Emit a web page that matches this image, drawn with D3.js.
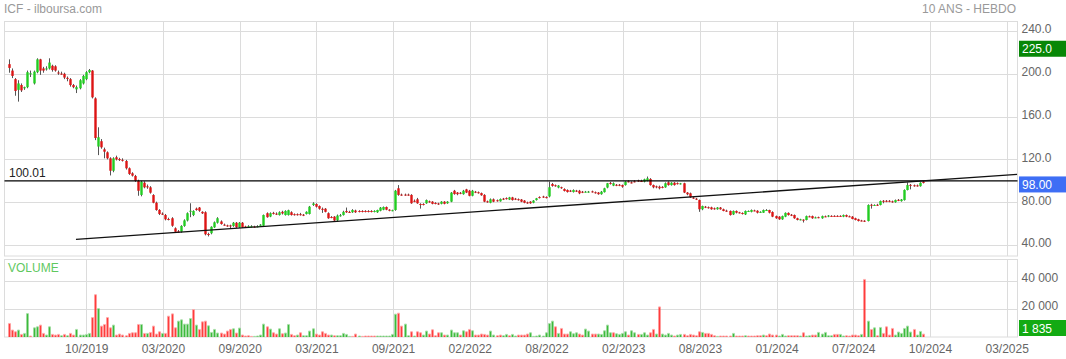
<!DOCTYPE html>
<html>
<head>
<meta charset="utf-8">
<title>ICF - ilboursa.com</title>
<script src="https://cdn.jsdelivr.net/npm/d3@7"></script>
<style>
  body { margin: 0; background: #fff; }
  svg { display: block; font-family: Arial, "Liberation Sans", sans-serif; }
</style>
</head>
<body>
<div id="chart"></div>
<script>
// x axis labels (one every ~26 weekly bars)
var dateTicks = ["10/2019", "03/2020", "09/2020", "03/2021", "09/2021", "02/2022", "08/2022",
                 "02/2023", "08/2023", "01/2024", "07/2024", "10/2024", "03/2025"];
var priceTicks = [240, 200, 160, 120, 80, 40];
var volumeTicks = [40000, 20000];

// weekly candles: [open, high, low, close]
var candles = [
[209,213.5,201,205.5],[203,205,196,198],[195,196,179.5,184],[185,194,174,191],[189.5,191,183,184.5],
[186.5,188,185,187.5],[187.5,203,186.5,201.5],[199.5,203,197,200.5],[191,203,190,202],[201.5,214.5,200.5,213.5],
[213.5,214,199,203],[205,206.5,201,203],[204.5,207,203,205],[205,214.5,204,210.5],[207.5,208.5,202,203.5],
[207,208,202,203],[201.2,203,199,201],[200.2,202,199,200],[200,201,195,196.5],[196.2,197.5,193,196],
[195,196,188,189.5],[189.5,190.5,186.5,187.5],[185.5,189,182,187.5],[186.5,195,185.5,194],[191,199,190,198],
[195,202.5,194,201.5],[201.5,204.5,200.5,203.5],[203,203.5,177,178],[177,178,138,140],[132,150,124,140.7],
[137,139,130,131.3],[129.4,131,121,127.2],[126.6,127.5,120,121],[121,122,105,109.4],[109.4,122,108,121],
[122,123.5,119,120],[120.3,121.5,118.5,120],[119.6,121,118,119.4],[118.5,119.5,110.5,111.7],[111.7,112.5,105.5,106.4],
[107,108,104,104.8],[104.5,105.5,99,100],[100,101,86,90.7],[86.8,100,85.5,99.2],[98.2,99.5,93,93.9],
[94.8,96.5,92.5,94.5],[93.9,95,88,88.9],[86.7,87.5,79,79.5],[79.5,80.5,72,72.7],[72.7,73.5,68,69],
[69.3,70.5,68,69],[68,69,63,64],[64.3,65.5,63,64],[65,66,57,58],[55.6,56.5,51.5,52.4],
[52.7,54,51.5,52.4],[52.4,58.5,51.5,57.8],[57.8,64,57,63],[62.9,70.5,62,69.7],[71.8,79,66,72],
[68,72.5,67,71.8],[74,75,72,72.7],[75,75.5,71,72],[71,71.5,69,69.6],[70.6,71.5,49,50],
[50.3,51.5,48,50],[51,57.5,50,57],[56.5,62,56,61.2],[60.8,66,60,65],[62,63,59,59.6],
[59,60,58,58.7],[58.3,59,57,58],[58.3,59,55,58],[57.8,61.5,57,60.8],[60.8,61.5,56,56.5],
[56.5,61.5,56,60.8],[60.8,61.5,56,56.5],[57.3,58,56,57],[57.3,58.5,56.5,57.5],[57.2,58.5,56.5,57.5],
[57.3,58,56,57],[57.2,58.5,56.5,57.5],[58,59.5,57.5,59],[58,68.5,57.5,68],[69.7,70.5,65.5,66],
[66.6,70.5,66,69.7],[70,71,68.5,69.7],[69.3,70.5,68,69],[68,71.5,67.5,70.6],[71,72,68.5,69.5],
[68,72.5,67.5,71.8],[68,73,67.5,72.5],[70.6,71.5,67.5,68],[68.8,69.5,67.5,68.5],[68.8,69.5,67.5,68.5],
[68.8,70,67.5,68.5],[68.3,69,67,68],[69,71.5,68.5,71],[69,76.5,68.5,75.8],[77.4,80,76.5,78.8],
[78.3,79,75,75.8],[76.4,77,73,73.9],[73.8,75,70,73.5],[73.9,74.5,70.5,71],[69.7,70.5,64.5,65],
[66.2,67,65,65.9],[66.5,67,62,62.9],[63,68.5,62,67.5],[67.5,69,66.5,67.8],[68,72,67.5,71],
[71.8,75,70,70.6],[70.9,72,70,70.6],[70.6,73.5,70,72.7],[72.2,73,70,70.6],[71.8,72.5,70.5,71.5],
[71.8,72.5,70.5,71.5],[71.8,72.5,70.5,71.5],[71.8,72.5,70.5,71.5],[71.8,72.5,70.5,71.5],[71.5,72.5,70.5,71.8],
[70.6,73,70,72.7],[72,75.5,71.5,74.9],[73,76,72.5,75.5],[75.5,76,72.5,73],[73,73.5,71.5,72],
[72.3,73,71.5,72.5],[72.7,91.5,72,90.7],[93,96,86,86.8],[87.1,88,86,86.8],[87.1,88,86,86.8],
[87.1,88,86,86.8],[86.8,87.5,78.5,79],[81.3,82.5,80,81],[82.7,84,78.5,79],[78.3,79,74,78],
[78.3,79,77,78],[79,82.5,78.5,82],[80.8,81.5,79.5,80.5],[80.5,81,78,78.5],[79.3,80,78,79],
[78.8,79.5,77.5,78.5],[78.5,81,78,80.5],[80.5,81,78,78.5],[79,81,78.5,80.5],[80.5,89.5,80,88.9],
[90.7,91.5,87,87.6],[89,89.5,86.5,87.5],[88.8,89.5,87.5,88.5],[87.5,91.5,87,90.7],[92,92.5,88.5,89],
[90.7,91.5,85.5,86],[86,91.5,85.5,90.7],[89.8,90.5,88.5,89.5],[89.3,90,88,89],[88.5,89,86,86.5],
[86.8,87.5,80,80.5],[80.8,81.5,79.5,80.5],[79.5,83.5,79,82.7],[82.7,83.5,80,80.5],[81.8,82.5,80.5,81.5],
[80.8,83.5,80.5,83],[83.3,84,82,83],[83.8,84.5,82.5,83.5],[82.5,85,82,84.5],[84.5,85,81.5,82],
[83.3,84,82,83],[82.8,83.5,81.5,82.5],[82.5,83,80,80.5],[81.5,82,79,79.5],[79.8,80.5,78.5,79.5],
[80.5,81,78.5,79],[79.5,82,79,81.5],[82,84,81.5,83.6],[84.8,85.5,83.5,84.5],[85.3,86,84,85],
[84.8,85.5,83.5,84.5],[85.4,99.2,84.5,94],[97,98,94.5,95.2],[95.8,96.5,94.5,95.5],[93.7,96,93,95.5],
[94,94.5,92.5,93.7],[92.3,93,90,90.5],[91.4,92,89,89.5],[90.8,91.5,89.5,90.5],[89.5,92,89,91.4],
[90.8,91.5,89.5,90.5],[90.7,91.5,87.5,88.3],[89.8,90.5,88.5,89.5],[89.5,90.5,89,89.8],[89.6,90.5,88.8,89.9],
[90.1,90.8,89,89.8],[89.3,90,88,89],[89,89.5,87,87.5],[87.5,90.5,87,89.8],[89.4,93.5,89,93],
[93.7,98,93,97.7],[98,99,96.5,97.7],[95.5,98.5,95,97.7],[96.3,97,95,96],[96.3,97,95,96],
[96,96.5,93.5,94.5],[96,99.7,95.5,99.2],[99.5,100.5,98.5,99.2],[98.5,99.5,97.5,98.2],[99.5,100.5,98.5,99.2],
[100.3,101,99,100],[99.8,101,99,99.5],[99.2,102,98.5,101.4],[99.8,104,99.5,102.3],[101.7,102.5,95.5,96],
[96,96.5,93,93.9],[94.8,95.5,93,94.5],[94.5,95.5,92,93],[94.3,95,93,94],[93.9,98.5,93.5,97.7],
[98.6,99.5,95.5,96],[96,98.7,95.5,98.2],[98.2,98.8,95.5,96],[97.8,98.5,96.5,97.5],[97.3,98,96.5,97.6],
[97.7,98.2,88.5,89],[89,89.5,86.5,87.4],[88.3,89,84,84.6],[84.3,85,83,84],[83.3,84,82,83],
[82,82.5,71,73.4],[73.4,76.8,72.5,76.4],[75.8,76.5,74.5,75.5],[75.3,76,74,75],[75.2,75.8,73,73.4],
[74.3,75,73,74],[73.4,75.5,73,75],[75,75.5,73,73.4],[73.4,74,71.5,71.8],[72.1,73,71,71.8],
[71.8,72.3,67.5,68],[68.6,72.3,68,71.8],[71.8,72.3,69.5,70.2],[70.5,71,69.5,70.2],[69.9,70.5,68.5,69.6],
[68.6,72.3,68,71.8],[71.5,72.3,71,71.8],[71,73.2,70.5,72.7],[72.3,73,71.5,72],[72,72.5,69.5,70.2],
[70.7,71.5,70,71],[70.2,73.2,70,72.7],[72.5,73.5,72,72.7],[72.7,73,69.5,70.2],[70.8,71.5,66,66.5],
[67,67.5,64.5,65],[66.5,67,63.5,64],[64,67.5,63.5,67],[66.5,70.5,66,70],[70,70.5,67.5,68],
[68.3,69,67,68],[68,68.5,64.5,65],[65,65.5,63,63.4],[63.7,64.5,63,64],[63.7,64,61,63.4],
[63.4,67.5,63,67],[66.8,67.5,66,66.5],[67,67.5,64.5,65],[65.5,66.5,65,65.8],[66,66.5,65,65.8],
[65,67.5,64.5,67],[66.8,67.5,66,66.5],[66.5,68,66,67.5],[67.2,67.8,66.5,67],[67.2,67.8,66.5,67],
[67.2,67.8,66.5,67],[67.2,67.8,66.5,67],[66.5,68.5,66,68],[68,68.5,66,66.5],[66.8,67.5,66,66.5],
[66.5,67,64,64.3],[65,65.5,63,63.4],[64,64.5,62,62.4],[62.9,63.5,62,62.7],[62.7,63.2,61.5,62.4],
[62.4,78,62,77.4],[77.6,78.5,74,77.4],[77.2,78,76.5,77.4],[77.6,78.5,76.5,77.4],[77.4,81.6,77,81.1],
[81.3,82,79,81.1],[81.3,82,80,81.1],[81.3,82,80,81.1],[80.8,81.5,79.5,80.5],[80,82.5,79.5,82],
[82.2,83,81,82],[81,83,80.5,82.5],[82,92,81.5,91.4],[91.4,98.5,91,96],[96.2,97,92,96],
[95.8,96.5,94.5,95.5],[95.7,96.5,94.5,95.5],[95,98.7,94.5,98.2],[99.2,100,97.5,98]
];

// weekly volumes, and the colour of each volume bar (g = up, r = down)
var volumes = [
9440,4720,3540,4720,1650,2360,16520,470,6370,7080,
8260,2360,1180,7080,1650,1180,1650,710,1650,710,
2360,1180,5190,1180,1180,1650,2360,13690,29970,20060,
7550,8730,13690,6370,8260,1180,1890,1180,710,2360,
2830,2830,8730,8730,2360,2360,3070,7550,1890,3540,
2360,2360,14630,16280,6370,11090,12040,8970,8970,12980,
19350,8260,5190,10620,11090,7790,3070,5190,2600,2600,
1890,4010,5190,5660,2600,6140,1180,470,710,240,
240,470,1180,8970,7080,5430,2830,1890,5660,2120,
2600,8730,1650,710,1180,2830,710,710,4010,5660,
1890,1180,3540,2360,1180,1180,710,710,710,2360,
1650,240,240,1890,470,240,470,470,470,470,
470,470,470,470,470,1650,16050,16760,7550,8970,
710,3540,470,3540,2830,1180,4010,1890,4960,710,
2830,2830,1180,1180,4720,2830,2830,1180,4250,3540,
5190,4250,1180,1180,1890,1650,1180,4010,1180,710,
1180,710,1650,710,1650,470,1180,1180,1180,1890,
2830,240,470,1180,470,2830,9440,11090,7080,2360,
5900,1890,1890,3540,2120,2830,1890,1180,5430,4010,
1890,1890,1890,1650,4250,8260,2830,2830,2120,1650,
2360,3540,1180,4250,2830,1650,1650,2830,1180,2830,
5190,1890,21240,1890,1180,2360,1180,470,1180,1650,
1650,710,1650,1180,710,3540,3070,2360,2360,1650,
710,240,470,470,470,470,2360,470,470,470,
710,470,470,470,710,710,1180,710,1890,1180,
1180,470,1650,470,710,710,710,710,470,2830,
470,710,1180,1180,3070,1890,3070,710,710,1650,
1650,1650,470,710,470,1180,1180,710,1650,40830,
11090,5190,6370,710,6610,2360,7080,1180,5900,1180,
3300,2360,5900,7550,3300,5190,1180,3780,1835
];
var volumeDir = ("rrrgrggrgg" + "rrggrrrgrg" + "rrgggggrrg" + "rrrrgrrrrr" + "rrrgrgrrrr" +
                 "grrrrggggg" + "rgrrrggggr" + "rrrgrgrrrr" + "ggggrgrrgr" + "ggrrgrgggg" +
                 "rrrrrgrggg" + "ggrrgrrrrr" + "gggggggrrg" + "grgrrggrrr" + "rgrggggrgr" +
                 "rgrrrrrggr" + "rggrggrrrr" + "ggggggggrg" + "rrrgggrrgg" + "rrgggggrgg" +
                 "ggrggrgggr" + "rgrggggrgg" + "rrrrrrgrrr" + "rgrrrrgrrr" + "grrrrrgrrr" +
                 "rgggrrrrgr" + "ggrrgggggr" + "rggrrrrrgr" + "grgrgrrrrg" + "gggggrggr").split("");

var highTag = 225.0;
var lastPrice = 98.00;
var lastVolume = 1835;
var resistance = 100.01;
// support line, [bar index, price]
var trendLine = [[21.85, 45.3], [328.8, 106]];

var W = 1066, H = 359;
var left = 4.5, right = 1017.5;
var priceTop = 21.5, priceBottom = 256;
var volTop = 259.5, volBottom = 337;

var svg = d3.select("#chart").append("svg")
  .attr("width", W).attr("height", H);

var x = d3.scaleLinear().domain([0, candles.length - 1]).range([9, 922.7]);
var xt = d3.scalePoint().domain(dateTicks).range([86.3, 1006.7]);
var y = d3.scaleLinear().domain([40, 240]).range([245, 31]);
var yv = d3.scaleLinear().domain([0, 40000]).range([336.7, 280.6]);

var fmtPrice = d3.format(".4r");
var fmtVol = d3.formatLocale({decimal: ".", thousands: " ", grouping: [3], currency: ["", ""]}).format(",");

var grid = "#dcdcdc", txt = "#666";
function crisp(v) { return Math.round(v) + 0.5; }

// titles
svg.append("text").attr("x", 4).attr("y", 13).attr("font-size", 12).attr("fill", "#999")
  .text("ICF - ilboursa.com");
svg.append("text").attr("x", 1016).attr("y", 13).attr("font-size", 12).attr("fill", "#999")
  .attr("text-anchor", "end").text("10 ANS - HEBDO");

// panes
[[priceTop, priceBottom], [volTop, volBottom]].forEach(function(p) {
  svg.append("rect").attr("x", left).attr("y", p[0]).attr("width", right - left).attr("height", p[1] - p[0])
    .attr("fill", "none").attr("stroke", grid);
  svg.selectAll(null).data(dateTicks).enter().append("line")
    .attr("x1", function(d) { return crisp(xt(d)); }).attr("x2", function(d) { return crisp(xt(d)); })
    .attr("y1", p[0]).attr("y2", p[1]).attr("stroke", grid);
});

svg.selectAll(".pg").data(priceTicks).enter().append("line")
  .attr("x1", left).attr("x2", right)
  .attr("y1", function(d) { return crisp(y(d)); }).attr("y2", function(d) { return crisp(y(d)); })
  .attr("stroke", grid);
svg.selectAll(".vg").data(volumeTicks).enter().append("line")
  .attr("x1", left).attr("x2", right)
  .attr("y1", function(d) { return crisp(yv(d)); }).attr("y2", function(d) { return crisp(yv(d)); })
  .attr("stroke", grid);

// axes
var ay = svg.append("g").attr("transform", "translate(" + (right + 4) + ",-2)")
  .call(d3.axisRight(y).tickValues(priceTicks).tickFormat(fmtPrice).tickSize(0).tickPadding(0));
var av = svg.append("g").attr("transform", "translate(" + (right + 4) + ",-3)")
  .call(d3.axisRight(yv).tickValues(volumeTicks).tickFormat(fmtVol).tickSize(0).tickPadding(0));
var ax = svg.append("g").attr("transform", "translate(0," + (volBottom + 7.5) + ")")
  .call(d3.axisBottom(xt).tickSize(0).tickPadding(0));
[ay, av, ax].forEach(function(a) {
  a.select(".domain").remove();
  a.selectAll("text").attr("font-family", "Arial, 'Liberation Sans', sans-serif")
    .attr("font-size", 12).attr("fill", txt);
});

svg.append("text").attr("x", 8).attr("y", 271.5).attr("font-size", 12).attr("fill", "#5fc85f").text("VOLUME");

// candles
var clip = svg.append("clipPath").attr("id", "pclip").append("rect")
  .attr("x", left).attr("y", priceTop).attr("width", right - left).attr("height", priceBottom - priceTop);
var cg = svg.append("g");
cg.selectAll(".wick").data(candles).enter().append("line")
  .attr("x1", function(d, i) { return Math.round(x(i)) + 0.5; })
  .attr("x2", function(d, i) { return Math.round(x(i)) + 0.5; })
  .attr("y1", function(d) { return y(d[1]); }).attr("y2", function(d) { return y(d[2]); })
  .attr("stroke", "#555").attr("stroke-width", 1);
cg.selectAll(".body").data(candles).enter().append("rect")
  .attr("x", function(d, i) { return Math.round(x(i)) - 0.7; })
  .attr("width", 2.4)
  .attr("y", function(d) { return y(Math.max(d[0], d[3])); })
  .attr("height", function(d) { return Math.max(1, Math.abs(y(d[0]) - y(d[3]))); })
  .attr("fill", function(d) { return d[3] >= d[0] ? "#22cc22" : "#dd1414"; });

// reference lines
svg.append("line").attr("x1", left).attr("x2", right)
  .attr("y1", y(resistance)).attr("y2", y(resistance))
  .attr("stroke", "#000").attr("stroke-width", 1.3);
svg.append("text").attr("x", 9).attr("y", 177).attr("font-size", 12).attr("fill", "#222")
  .text(d3.format(".2f")(resistance));
svg.append("path").datum(trendLine).attr("clip-path", "url(#pclip)")
  .attr("d", d3.line().x(function(d) { return x(d[0]); }).y(function(d) { return y(d[1]); }))
  .attr("fill", "none").attr("stroke", "#111").attr("stroke-width", 1.3);

// volume bars
var vg = svg.append("g");
vg.selectAll(".vol").data(volumes).enter().append("rect")
  .attr("x", function(d, i) { return Math.round(x(i)) - 0.5; })
  .attr("width", 2)
  .attr("y", function(d) { return yv(d); })
  .attr("height", function(d) { return volBottom - yv(d); })
  .attr("fill", function(d, i) { return volumeDir[i] === "g" ? "#3cba3c" : "#ff3c3c"; });
vg.selectAll(".cap").data(volumes).enter().append("rect")
  .attr("x", function(d, i) { return Math.round(x(i)) - 0.5; })
  .attr("width", 2)
  .attr("y", function(d) { return yv(d) - 0.5; })
  .attr("height", 1)
  .attr("fill", function(d, i) { return volumeDir[i] === "g" ? "#a8dea8" : "#ffaaaa"; });

// value tags on the right
function tag(yc, label, color) {
  svg.append("rect").attr("x", 1019).attr("y", yc - 8).attr("width", 47).attr("height", 16).attr("fill", color);
  svg.append("text").attr("x", 1022).attr("y", yc + 4.5).attr("font-size", 12).attr("fill", "#fff").text(label);
}
tag(y(highTag) + 1.7, fmtPrice(highTag), "#078707");
tag(y(lastPrice) + 1.5, fmtPrice(lastPrice), "#3e6ef5");
tag(Math.min(yv(lastVolume), volBottom - 9) , fmtVol(lastVolume), "#13aa13");
</script>
</body>
</html>
